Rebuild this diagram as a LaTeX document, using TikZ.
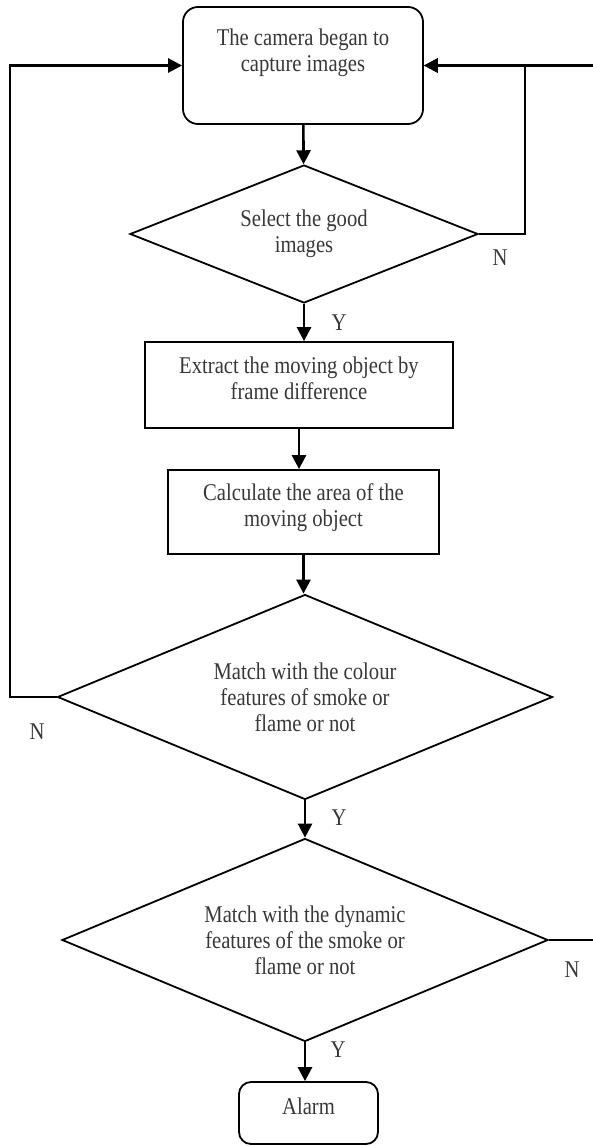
\documentclass[tikz,border=0pt]{standalone}
\usepackage{fontspec}
\setmainfont{Liberation Serif}[FakeStretch=0.86]
\usepackage{xcolor}
\usepackage{tikz}
\usetikzlibrary{shapes.geometric,arrows.meta}

\begin{document}
\begin{tikzpicture}[x=1pt, y=-1pt,
        every node/.style={text=black!78, font=\fontsize{24}{26}\selectfont},
        box/.style={rectangle, draw=black, line width=1.8pt, align=center, inner sep=0pt},
        roundbox/.style={box, rounded corners=15pt},
        choice/.style={diamond, draw=black, line width=1.8pt, align=center, inner sep=0pt},
        flow/.style={line width=2.6pt, -{Triangle[length=14pt,width=14pt]}}]
        \path[use as bounding box, clip] (0,0) rectangle (593,1146);
        \node (1) at (303,65.5) [roundbox, minimum width=240pt, minimum height=117pt, text depth=30pt] {The camera began to\\capture images};
        \node (2) at (304,234) [choice, minimum width=348pt, minimum height=138pt, aspect=2.52] {Select the good\\images};
        \node (3) at (299,385) [box, minimum width=308pt, minimum height=86pt, text depth=14pt] {Extract the moving object by\\frame difference};
        \node (4) at (303.5,512) [box, minimum width=271pt, minimum height=84pt, text depth=14pt] {Calculate the area of the\\moving object};
        \node (5) at (305,697) [choice, minimum width=495pt, minimum height=205pt, aspect=2.41] {Match with the colour\\features of smoke or\\flame or not};
        \node (6) at (305,940) [choice, minimum width=486pt, minimum height=203pt, aspect=2.39] {Match with the dynamic\\features of the smoke or\\flame or not};
        \node (7) at (308.5,1113) [roundbox, minimum width=139pt, minimum height=62pt, rounded corners=12pt, text depth=14pt] {Alarm};
        % turning points of the loops
        \coordinate (r1) at (525,0);
        \coordinate (l1) at (10,0);
        \coordinate (r2) at (600,0);
        \draw [flow] (1) -- (2);
        \draw [flow] (2.south) -- (2.south |- 3.north);
        \draw [flow] (3.south) -- (3.south |- 4.north);
        \draw [flow] (4.south) -- (4.south |- 5.north);
        \draw [flow] (5.south) -- (5.south |- 6.north);
        \draw [flow] (6.south) -- (6.south |- 7.north);
        \draw [flow] (2.east) -| (r1 |- 1.east) -- (1.east);
        \draw [flow] (5.west) -| (l1 |- 1.west) -- (1.west);
        \draw [flow] (6.east) -| (r2 |- 1.east) -- (1.east);
        \node (n1) at (500,258) {N};
        \node (y1) at (339,323) {Y};
        \node (n2) at (37,732) {N};
        \node (y2) at (339,818) {Y};
        \node (n3) at (572,970) {N};
        \node (y3) at (338,1050) {Y};
\end{tikzpicture}
\end{document}
